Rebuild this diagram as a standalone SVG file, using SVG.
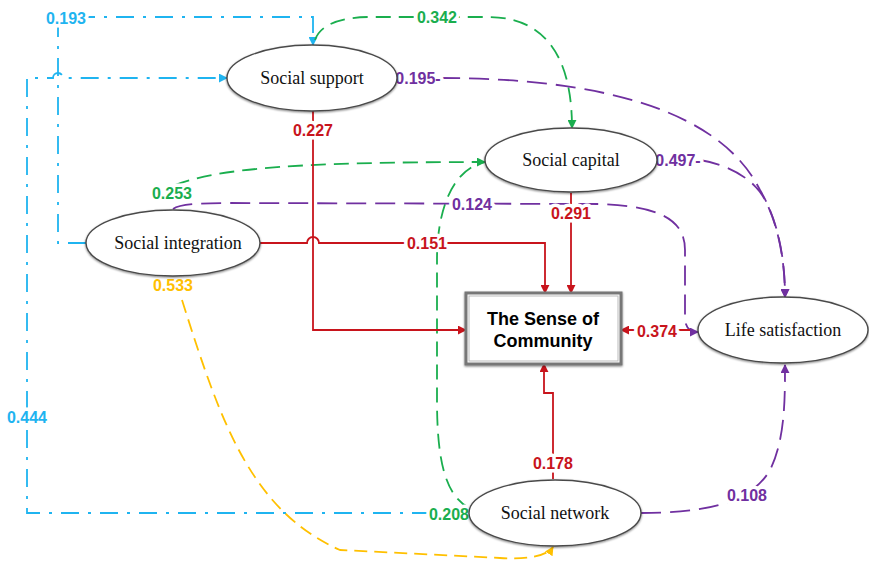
<svg xmlns="http://www.w3.org/2000/svg" width="869" height="563" viewBox="0 0 869 563">
<style>
.node{fill:#fff;stroke:#4a4a4a;stroke-width:1.4}
.nt{font-family:"Liberation Serif",serif;font-size:18px;fill:#111;text-anchor:middle;dominant-baseline:central}
.bt{font-family:"Liberation Sans",Arial,sans-serif;font-size:18px;font-weight:bold;fill:#000;text-anchor:middle}
.c{fill:none;stroke-width:1.8}
.blue{stroke:#1fb4f0;stroke-dasharray:18,9,3,9}
.green{stroke:#1aae4e;stroke-dasharray:15,8}
.purple{stroke:#7030a0;stroke-dasharray:20,9}
.red{stroke:#c8141c}
.yellow{stroke:#ffc000;stroke-dasharray:13,7}
.lb{font-family:"Liberation Sans",Arial,sans-serif;font-size:16px;font-weight:bold;dominant-baseline:central;text-anchor:middle;paint-order:stroke;stroke:#fff;stroke-width:7;stroke-linejoin:round}
</style>
<defs>
<marker id="aB" viewBox="0 0 10 10" refX="9" refY="5" markerWidth="5" markerHeight="5" orient="auto" markerUnits="strokeWidth"><path d="M0,0L10,5L0,10z" fill="#1fb4f0"/></marker>
<marker id="aG" viewBox="0 0 10 10" refX="9" refY="5" markerWidth="5" markerHeight="5" orient="auto" markerUnits="strokeWidth"><path d="M0,0L10,5L0,10z" fill="#1aae4e"/></marker>
<marker id="aP" viewBox="0 0 10 10" refX="9" refY="5" markerWidth="5" markerHeight="5" orient="auto" markerUnits="strokeWidth"><path d="M0,0L10,5L0,10z" fill="#7030a0"/></marker>
<marker id="aR" viewBox="0 0 10 10" refX="9" refY="5" markerWidth="5" markerHeight="5" orient="auto-start-reverse" markerUnits="strokeWidth"><path d="M0,0L10,5L0,10z" fill="#c8141c"/></marker>
<marker id="aY" viewBox="0 0 10 10" refX="9" refY="5" markerWidth="5" markerHeight="5" orient="auto" markerUnits="strokeWidth"><path d="M0,0L10,5L0,10z" fill="#ffc000"/></marker>
<filter id="sh" x="-10%" y="-20%" width="120%" height="140%"><feGaussianBlur in="SourceAlpha" stdDeviation="1.2"/><feOffset dx="0" dy="1"/><feComponentTransfer><feFuncA type="linear" slope="0.5"/></feComponentTransfer><feMerge><feMergeNode/><feMergeNode in="SourceGraphic"/></feMerge></filter>
</defs>
<g id="connectors">
<path class="c blue" d="M86,243 H58 V17 H313 V45" marker-end="url(#aB)"/>
<path class="c blue" d="M469,513 H27 V78 H53 A5,5 0 0 1 63,78 H227" marker-end="url(#aB)"/>
<path class="c green" d="M315,40 C320,25 340,17 370,17 L488,17 C540,17 572,50 572,128" marker-end="url(#aG)"/>
<path class="c green" d="M175,185 C220,168 300,162 485,162" marker-end="url(#aG)"/>
<path class="c green" d="M469,508 C445,495 437,460 437,400 L437,260 C437,205 455,168 485,162"/>
<path class="c purple" d="M440,78 C600,78 720,110 760,190 C775,215 785,250 785,297" marker-end="url(#aP)"/>
<path class="c purple" d="M700,160 C730,165 755,180 765,200 C778,225 785,260 785,297" marker-end="url(#aP)"/>
<path class="c purple" d="M173,209 C180,204 200,203 230,203 L600,204 C660,206 685,220 685,250 L685,318 C685,327 690,332 698,332" marker-end="url(#aP)"/>
<path class="c purple" d="M641,513 C700,513 750,505 770,470 C785,440 785,400 785,365" marker-end="url(#aP)"/>
<path class="c red" d="M313,111 V330 H466" marker-end="url(#aR)"/>
<path class="c red" d="M259,243 H307 A6,6 0 0 1 319,243 H545 V293" marker-end="url(#aR)"/>
<path class="c red" d="M571,193 V293" marker-end="url(#aR)"/>
<path class="c red" d="M690,330 H621" marker-end="url(#aR)"/>
<path class="c red" d="M553,479 V393 H544 V364" marker-end="url(#aR)"/>
<path class="c yellow" d="M182,300 C220,420 250,510 340,550 L500,558 C530,560 548,555 553,547" marker-end="url(#aY)"/>
<text class="lb" x="66" y="18" fill="#1fb4f0">0.193</text>
<text class="lb" x="27" y="417" fill="#1fb4f0">0.444</text>
<text class="lb" x="437" y="17" fill="#1aae4e">0.342</text>
<text class="lb" x="172" y="193" fill="#1aae4e">0.253</text>
<text class="lb" x="449" y="514" fill="#1aae4e">0.208</text>
<text class="lb" x="418" y="78" fill="#7030a0">0.195-</text>
<text class="lb" x="678" y="160" fill="#7030a0">0.497-</text>
<text class="lb" x="472" y="204" fill="#7030a0">0.124</text>
<text class="lb" x="747" y="495" fill="#7030a0">0.108</text>
<text class="lb" x="313" y="130" fill="#c8141c">0.227</text>
<text class="lb" x="427" y="243" fill="#c8141c">0.151</text>
<text class="lb" x="571" y="213" fill="#c8141c">0.291</text>
<text class="lb" x="657" y="331" fill="#c8141c">0.374</text>
<text class="lb" x="553" y="463" fill="#c8141c">0.178</text>
<text class="lb" x="173" y="285" fill="#ffc000">0.533</text>
</g>
<g id="social-support"><ellipse class="node" filter="url(#sh)" cx="312" cy="78" rx="85" ry="33"/><text class="nt" x="312" y="78">Social support</text></g>
<g id="social-capital"><ellipse class="node" filter="url(#sh)" cx="571" cy="160" rx="86" ry="32"/><text class="nt" x="571" y="160">Social capital</text></g>
<g id="social-integration"><ellipse class="node" filter="url(#sh)" cx="173" cy="243" rx="87" ry="33"/><text class="nt" x="178" y="243">Social integration</text></g>
<g id="life-satisfaction"><ellipse class="node" filter="url(#sh)" cx="783" cy="330" rx="85" ry="33"/><text class="nt" x="783" y="330">Life satisfaction</text></g>
<g id="social-network"><ellipse class="node" filter="url(#sh)" cx="555" cy="513" rx="86" ry="33"/><text class="nt" x="555" y="513">Social network</text></g>
<g id="sense-of-community">
<rect x="466" y="293" width="155" height="71" fill="#fff" stroke="#777" stroke-width="3" filter="url(#sh)"/>
<rect x="469" y="296" width="149" height="65" fill="none" stroke="#bbb" stroke-width="1"/>
<text class="bt" x="543" y="325">The Sense of</text>
<text class="bt" x="543" y="347">Community</text>
</g>
</svg>
